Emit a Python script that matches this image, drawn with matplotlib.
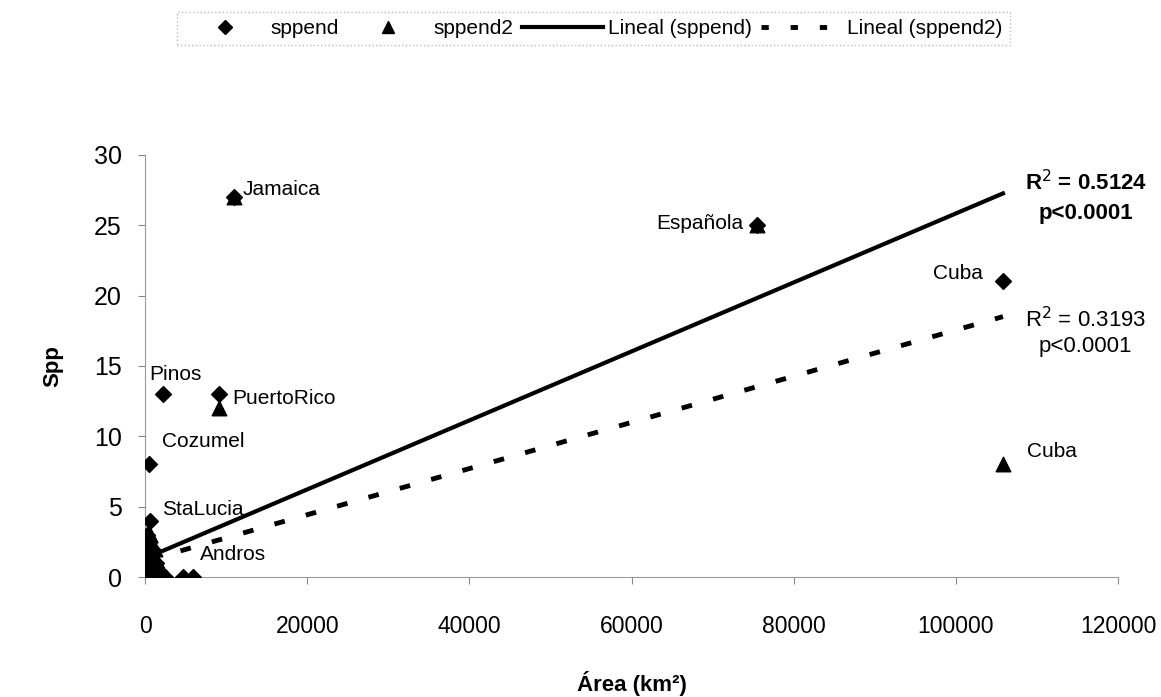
import matplotlib.pyplot as plt
from matplotlib.lines import Line2D

plt.rcParams['font.family'] = ['Liberation Sans', 'DejaVu Sans']

# sppend (diamonds): island area (km2) and number of species
area_sppend = [10991, 75500, 105800, 2200, 9104, 478, 617, 4700, 5900,
               300, 400, 700, 1000, 1500, 200, 800, 1300, 250, 1100, 600, 2400]
spp_sppend = [27, 25, 21, 13, 13, 8, 4, 0, 0,
              2, 1, 1, 0, 0, 0, 2, 1, 3, 1, 2, 0]

# sppend2 (triangles)
area_sppend2 = [10991, 75500, 105800, 9104, 617, 4700, 5900,
                300, 500, 1000, 1800, 600, 900, 1400, 200, 1200, 2000, 700,
                2600, 400, 1600, 100, 800]
spp_sppend2 = [27, 25, 8, 12, 3, 0, 0,
               2, 1, 0, 0, 3, 1, 0, 0, 2, 0, 1,
               0, 3, 1, 1, 2]

# linear trendlines (intercept, slope)
fit_sppend = (1.33, 0.000245)
fit_sppend2 = (1.15, 0.000164)
fit_x = [500, 105800]

r2_sppend = 0.5124
r2_sppend2 = 0.3193

labels = ['Jamaica', 'Española', 'Cuba', 'Cuba', 'Pinos', 'PuertoRico',
          'Cozumel', 'StaLucia', 'Andros']
label_x = [12000, 73800, 103300, 108800, 500, 10800, 2100, 2100, 6800]
label_y = [27.5, 25.1, 21.6, 8.9, 14.4, 12.7, 9.6, 4.8, 1.6]
label_ha = ['left', 'right', 'right', 'left', 'left', 'left', 'left', 'left', 'left']

fig = plt.figure(figsize=(11.61, 6.97), dpi=100)
ax = fig.add_axes([0.125, 0.172, 0.838, 0.606])

ax.scatter(area_sppend2, spp_sppend2, marker='^', s=110, color='black', zorder=3)
ax.scatter(area_sppend, spp_sppend, marker='D', s=65, color='black', zorder=3)

y1 = [fit_sppend[0] + fit_sppend[1] * x for x in fit_x]
y2 = [fit_sppend2[0] + fit_sppend2[1] * x for x in fit_x]
ax.plot(fit_x, y1, color='black', lw=3, zorder=2)
ax.plot(fit_x, y2, color='black', lw=3.5, dashes=(2.2, 4.5), zorder=2)

for t, x, y, ha in zip(labels, label_x, label_y, label_ha):
    ax.text(x, y, t, ha=ha, va='center', fontsize=15)

ax.text(116000, 27.0, 'R$^2$ = %.4f\np<0.0001' % r2_sppend, ha='center', va='center',
        fontsize=16, fontweight='bold', linespacing=1.5)
ax.text(116000, 17.4, 'R$^2$ = %.4f\np<0.0001' % r2_sppend2, ha='center', va='center',
        fontsize=16, linespacing=1.2)

ax.set_xlim(0, 120000)
ax.set_ylim(0, 30)
ax.set_xticks([0, 20000, 40000, 60000, 80000, 100000, 120000])
ax.set_yticks([0, 5, 10, 15, 20, 25, 30])
ax.tick_params(color='#888888', length=5)
ax.tick_params(axis='x', pad=22, labelsize=16.5)
ax.tick_params(axis='y', pad=12, labelsize=18)
for s in ['top', 'right']:
    ax.spines[s].set_visible(False)
for s in ['left', 'bottom']:
    ax.spines[s].set_color('#999999')
ax.set_xlabel('Área (km²)', fontsize=16, fontweight='bold', labelpad=24)
ax.set_ylabel('Spp', fontsize=16, fontweight='bold', labelpad=22)

handles = [
    Line2D([], [], marker='D', color='black', ls='none', markersize=7),
    Line2D([], [], marker='^', color='black', ls='none', markersize=9),
    Line2D([], [], color='black', lw=3),
    Line2D([], [], color='black', lw=3.5, dashes=(1.5, 4.5)),
]
leg = fig.legend(handles, ['sppend', 'sppend2', 'Lineal (sppend)', 'Lineal (sppend2)'],
                 loc='upper center', bbox_to_anchor=(0.511, 0.998), ncol=4, fontsize=15,
                 frameon=True, fancybox=False, handlelength=3.9, columnspacing=0.4,
                 handletextpad=0.25, borderpad=0.35)
leg.get_frame().set_edgecolor('#aaaaaa')
leg.get_frame().set_linestyle(':')

fig.savefig('out.png', dpi=100)
